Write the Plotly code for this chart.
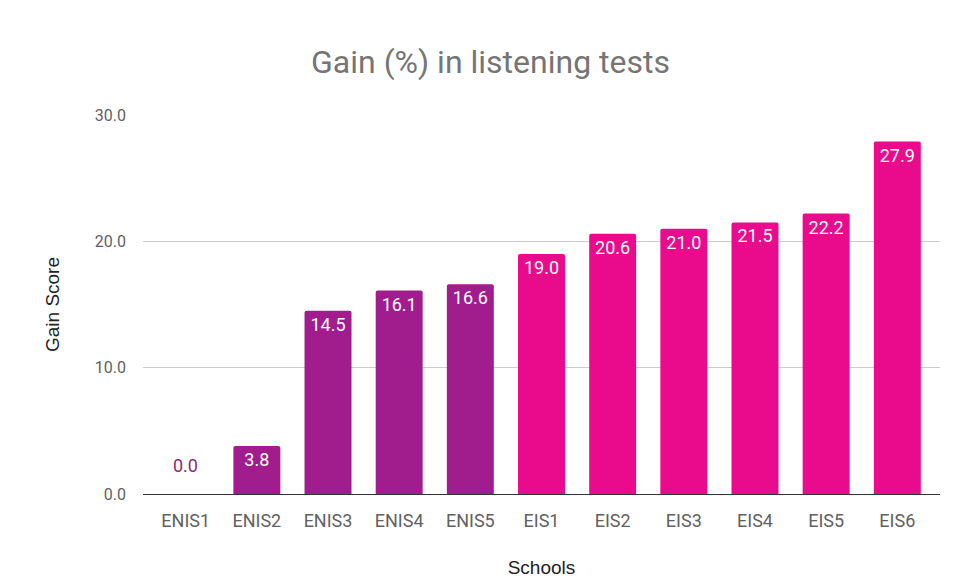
import plotly.graph_objects as go

schools = ["ENIS1", "ENIS2", "ENIS3", "ENIS4", "ENIS5", "EIS1", "EIS2", "EIS3", "EIS4", "EIS5", "EIS6"]
gains = [0.0, 3.8, 14.5, 16.1, 16.6, 19.0, 20.6, 21.0, 21.5, 22.2, 27.9]
groups = ["ENIS", "ENIS", "ENIS", "ENIS", "ENIS", "EIS", "EIS", "EIS", "EIS", "EIS", "EIS"]
y_ticks = [0, 10, 20, 30]

group_colors = {"ENIS": "#A11D8E", "EIS": "#EA0A8C"}
colors = [group_colors[g] for g in groups]
labels = [f"{v:.1f}" if v != 0 else "" for v in gains]

fig = go.Figure(go.Bar(
    x=schools, y=gains,
    marker=dict(color=colors, line=dict(width=0)),
    text=labels,
    textposition="inside",
    insidetextanchor="end",
    insidetextfont=dict(color="white", size=18, family="Roboto"),
    textangle=0,
    constraintext="none",
))

# labels for zero-height bars sit above the baseline
for s, v, g in zip(schools, gains, groups):
    if v == 0:
        fig.add_annotation(x=s, y=v, text=f"{v:.1f}", showarrow=False,
                           yshift=29, font=dict(size=18, color="#8E2A6E", family="Roboto"))

fig.update_layout(
    width=965, height=579,
    margin=dict(l=135, r=33, t=107, b=93),
    paper_bgcolor="white", plot_bgcolor="white",
    bargap=0.34,
    barcornerradius=2,
    showlegend=False,
    font=dict(family="Roboto", color="#616161"),
    title=dict(text="Gain (%) in listening tests", x=0.5, xanchor="center",
               y=1 - 54/579, yanchor="middle",
               font=dict(size=32, color="#757575", family="Roboto")),
    xaxis=dict(
        title=dict(text="Schools", font=dict(size=19, color="#222222", family="Liberation Sans"), standoff=30),
        tickfont=dict(size=18, color="#616161"),
        range=[-0.6, 10.6], automargin=False,
        showgrid=False, showline=False, ticks="", ticklabelstandoff=14,
    ),
    yaxis=dict(
        title=dict(text="Gain Score", font=dict(size=19, color="#222222", family="Liberation Sans"), standoff=30),
        range=[0, 30], tickvals=y_ticks, tickformat=".1f", automargin=False,
        tickfont=dict(size=16, color="#616161"),
        showgrid=True, gridcolor="#CCCCCC", gridwidth=1,
        zeroline=True, zerolinecolor="#333333", zerolinewidth=1,
        showline=False, ticks="", ticklabelstandoff=16,
    ),
)

fig.write_html("out.html")
